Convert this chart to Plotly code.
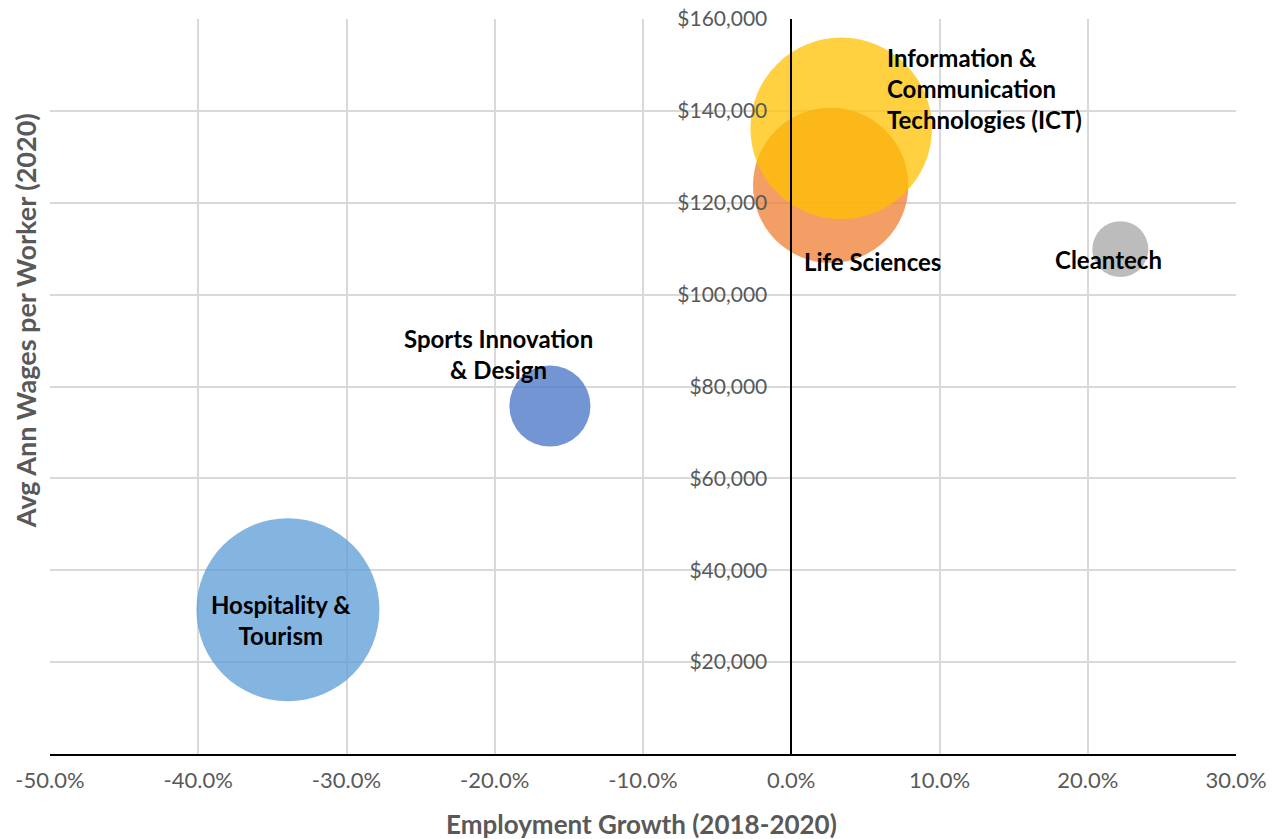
import plotly.graph_objects as go

# cluster data
clusters = ["Hospitality & Tourism", "Sports Innovation & Design", "Life Sciences",
            "Information & Communication Technologies (ICT)", "Cleantech"]
emp_growth = [-0.3395, -0.1628, 0.0266, 0.0337, 0.2220]        # 2018-2020
avg_wage = [31400, 75750, 123800, 136200, 109900]               # 2020
employment = [84000, 16500, 60500, 82700, 7850]                  # bubble size

x_ticks = [-0.5, -0.4, -0.3, -0.2, -0.1, 0.0, 0.1, 0.2, 0.3]
x_tick_labels = ["-50.0%", "-40.0%", "-30.0%", "-20.0%", "-10.0%",
                 "0.0%", "10.0%", "20.0%", "30.0%"]
y_ticks = [20000, 40000, 60000, 80000, 100000, 120000, 140000, 160000]

colours = ["rgba(91,155,213,0.75)", "rgba(68,114,196,0.75)", "rgba(237,125,49,0.75)",
           "rgba(255,192,0,0.75)", "rgba(165,165,165,0.75)"]

# label text + placement relative to bubble centre (px)
label_text = ["Hospitality &<br>Tourism", "Sports Innovation<br>& Design", "Life Sciences",
              "Information &<br>Communication<br>Technologies (ICT)", "Cleantech"]
label_style = [
    dict(xshift=-7, yshift=-10, xanchor="center"),
    dict(xshift=-51, yshift=52, xanchor="center"),
    dict(xshift=-29, yshift=-76, xanchor="left"),
    dict(xshift=44, yshift=40, xanchor="left"),
    dict(xshift=-12, yshift=-10, xanchor="center"),
]

FONT = "Lato, 'Open Sans', sans-serif"
GREY = "#595959"
GRID = "#D9D9D9"

max_diam = 183
sizeref = 2.0 * max(employment) / max_diam ** 2

fig = go.Figure()
for name, xv, yv, sz, col in zip(clusters, emp_growth, avg_wage, employment, colours):
    fig.add_trace(go.Scatter(
        x=[xv], y=[yv], mode="markers", name=name,
        marker=dict(size=[sz], sizemode="area", sizeref=sizeref,
                    color=col, opacity=1, line=dict(width=0)),
        cliponaxis=False,
    ))

annotations = []
for xv, yv, txt, st in zip(emp_growth, avg_wage, label_text, label_style):
    annotations.append(dict(
        x=xv, y=yv, xref="x", yref="y", text="<b>" + txt + "</b>",
        showarrow=False, align=st["xanchor"] if st["xanchor"] != "center" else "center",
        xanchor=st["xanchor"], yanchor="middle",
        xshift=st["xshift"], yshift=st["yshift"],
        font=dict(family=FONT, size=24, color="#000000"),
    ))

annotations.append(dict(
    text="<b>Employment Growth (2018-2020)</b>", xref="paper", yref="paper",
    x=0.499, y=-0.095, showarrow=False, xanchor="center", yanchor="middle",
    font=dict(family=FONT, size=26, color=GREY),
))
annotations.append(dict(
    text="<b>Avg Ann Wages per Worker (2020)</b>", xref="paper", yref="paper",
    x=-0.021, y=0.589, showarrow=False, textangle=-90, xanchor="center", yanchor="middle",
    font=dict(family=FONT, size=27, color=GREY),
))

fig.update_layout(
    width=1283, height=839,
    margin=dict(l=50, r=47, t=19, b=85),
    paper_bgcolor="white", plot_bgcolor="white",
    showlegend=False,
    font=dict(family=FONT, size=22, color=GREY),
    annotations=annotations,
    xaxis=dict(
        range=[-0.5, 0.3], tickvals=x_ticks, ticktext=x_tick_labels,
        showgrid=True, gridcolor=GRID, gridwidth=1.5,
        zeroline=False, showline=True, linecolor="#000000", linewidth=2,
        ticks="outside", ticklen=6, tickcolor="rgba(0,0,0,0)",
        tickfont=dict(size=22, color=GREY),
        automargin=False, ticklabeloverflow="allow",
    ),
    yaxis=dict(
        range=[0, 160000], tickvals=y_ticks, tickformat="$,.0f",
        anchor="free", position=0.625,
        showgrid=True, gridcolor=GRID, gridwidth=1.5,
        zeroline=False, showline=True, linecolor="#000000", linewidth=1.5,
        ticks="outside", ticklen=19, tickcolor="rgba(0,0,0,0)",
        tickfont=dict(size=21, color=GREY),
        automargin=False, ticklabeloverflow="allow",
    ),
)

# drop the default 8px body margin so the figure sits at the page corner
fig.write_html("out.html", config={"displayModeBar": False},
               post_script="document.body.style.margin='0';")
